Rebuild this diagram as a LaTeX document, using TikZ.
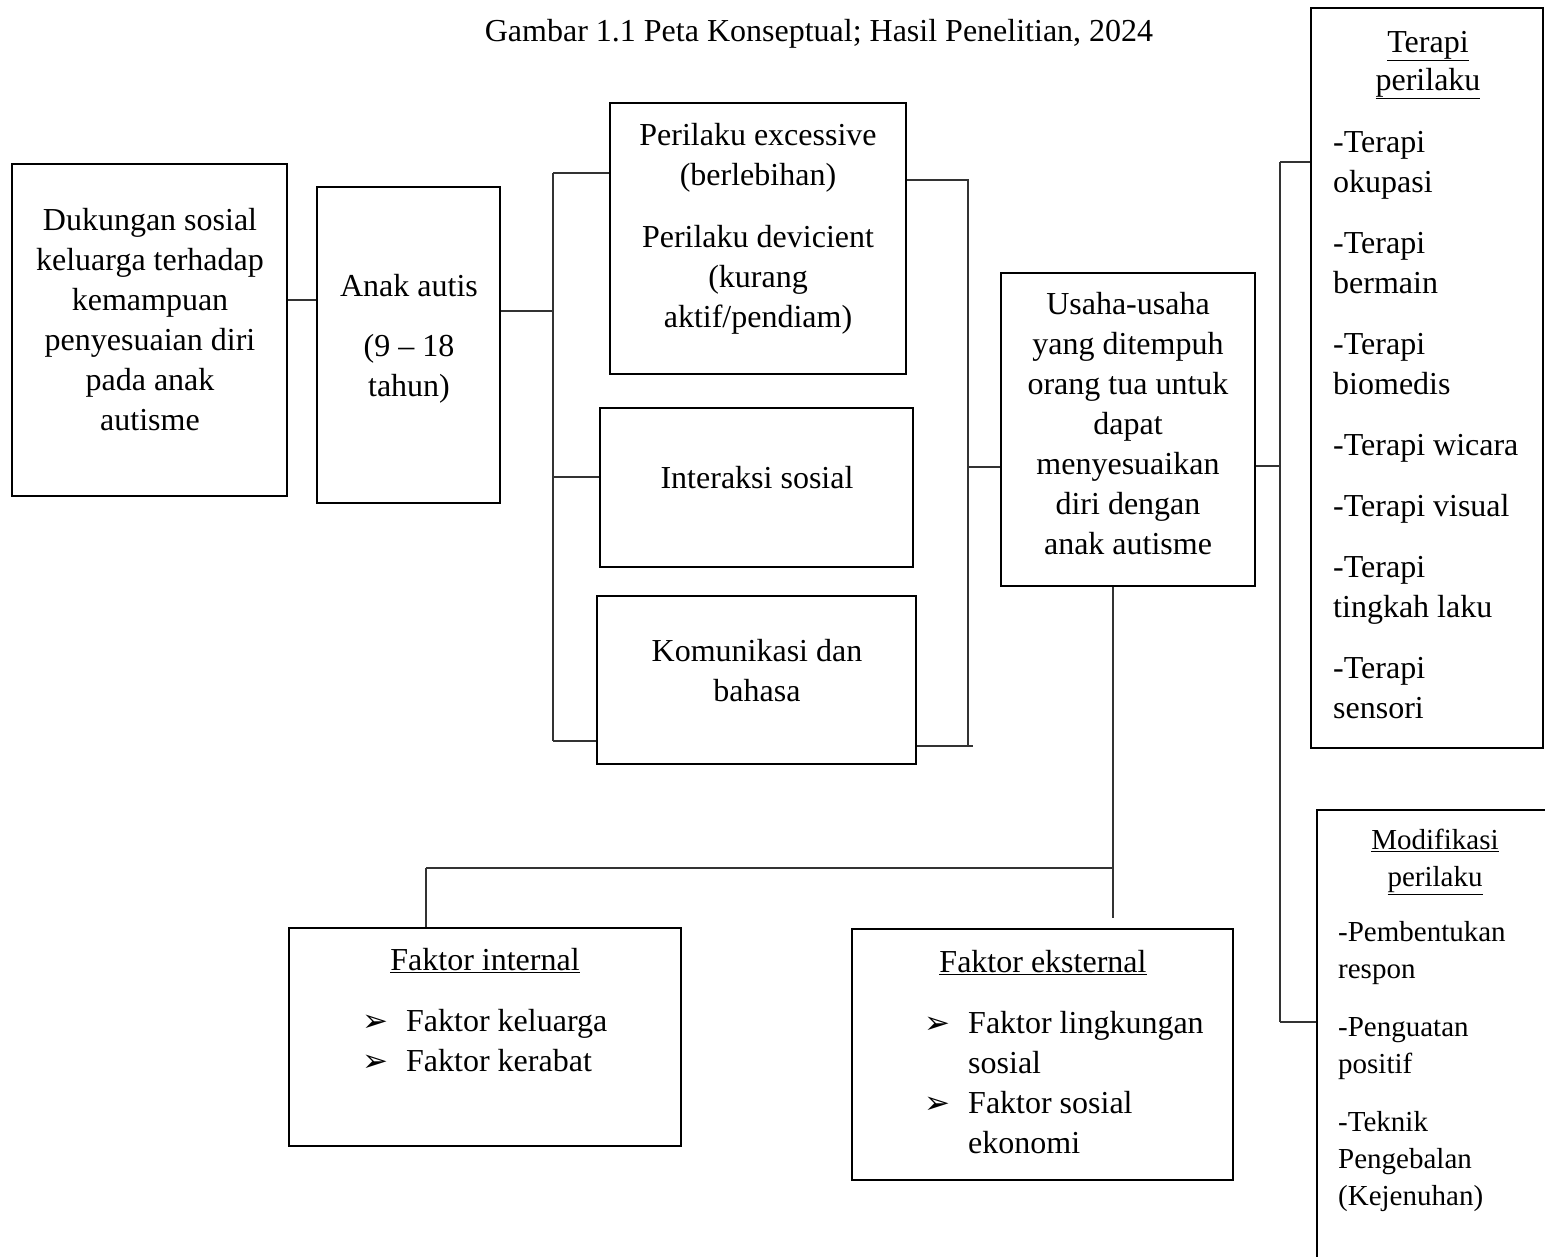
\documentclass[tikz,border=0pt]{standalone}
\usepackage{fontspec}
\setmainfont{Liberation Serif}
\newfontfamily\dejavu{DejaVu Sans}
\usetikzlibrary{fit}
\tikzset{
  box/.style={draw, line width=2.7pt, inner sep=0pt},
  conn/.style={draw=black!80, line width=1.3pt},
  txt/.style={font=\fontsize{32}{40}\selectfont, align=center, inner sep=0pt},
  ltxt/.style={font=\fontsize{32}{40}\selectfont, align=left, inner sep=0pt, anchor=west},
  stxt/.style={font=\fontsize{29}{37}\selectfont, align=left, inner sep=0pt, anchor=west},
}
\newcommand\arrb{\makebox[44pt][l]{\raisebox{0pt}{\dejavu\fontsize{31}{31}\selectfont ➢}}}
\begin{document}
\begin{tikzpicture}[x=1pt,y=-1pt]
\fill[white] (0,0) rectangle (1545,1257);
\useasboundingbox (0,0) rectangle (1545,1257);

% title
\node[txt] (title) at (819,34) {Gambar 1.1 Peta Konseptual; Hasil Penelitian, 2024};

% boxes
\node[box, fit={(12,164) (287,496)}] (b1) {};
\node[box, fit={(317,187) (500,503)}] (b2) {};
\node[box, fit={(610,103) (906,374)}] (b3) {};
\node[box, fit={(600,408) (913,567)}] (b4) {};
\node[box, fit={(597,596) (916,764)}] (b5) {};
\node[box, fit={(1001,273) (1255,586)}] (b6) {};
\node[box, fit={(1311,8) (1543,748)}] (b7) {};
\node[box, fit={(1317,810) (1560,1275)}] (b8) {};
\node[box, fit={(289,928) (681,1146)}] (b9) {};
\node[box, fit={(852,929) (1233,1180)}] (b10) {};

% texts
\node[txt] (t1) at (150,320) {Dukungan sosial\\keluarga terhadap\\kemampuan\\penyesuaian diri\\pada anak\\autisme};
\node[txt] (t2) at (409,339) {Anak autis\\[20pt](9 – 18\\tahun)};
\node[txt] (t3) at (758,229) {Perilaku excessive\\(berlebihan)\\[22pt]Perilaku devicient\\(kurang\\aktif/pendiam)};
\node[txt] (t4) at (757,478) {Interaksi sosial};
\node[txt] (t5) at (757,671) {Komunikasi dan\\bahasa};
\node[txt] (t6) at (1128,424) {Usaha-usaha\\yang ditempuh\\orang tua untuk\\dapat\\menyesuaikan\\diri dengan\\anak autisme};

\node[txt, font=\fontsize{32}{38}\selectfont] (t7a) at (1428,65) {\underline{Terapi}\\\underline{perilaku}};
\node[ltxt] (t7b) at (1333,425) {-Terapi\\okupasi\\[21pt]-Terapi\\bermain\\[21pt]-Terapi\\biomedis\\[21pt]-Terapi wicara\\[21pt]-Terapi visual\\[21pt]-Terapi\\tingkah laku\\[21pt]-Terapi\\sensori};

\node[txt, font=\fontsize{29}{37}\selectfont] (t8a) at (1435,862) {\underline{Modifikasi}\\\underline{perilaku}};
\node[stxt] (t8b) at (1338,1067) {-Pembentukan\\respon\\[21pt]-Penguatan\\positif\\[21pt]-Teknik\\Pengebalan\\(Kejenuhan)};

\node[txt] (t9a) at (485,961) {\underline{Faktor internal}};
\node[ltxt] (t9b) at (362,1041) {\arrb Faktor keluarga\\\arrb Faktor kerabat};
\node[txt] (t10a) at (1043,963) {\underline{Faktor eksternal}};
\node[ltxt] (t10b) at (924,1083) {\arrb Faktor lingkungan\\\hspace*{44pt}sosial\\\arrb Faktor sosial\\\hspace*{44pt}ekonomi};

% connectors
\coordinate (lbT) at (553,173);
\coordinate (lbB) at (553,741);
\coordinate (rbT) at (968,180);
\coordinate (rbB) at (968,746);
\coordinate (fbT) at (1280,162);
\coordinate (fbB) at (1280,1022);
\coordinate (hL) at (426,868);
\coordinate (hR) at (1113,868);
\coordinate (vEnd) at (1113,918);

\draw[conn] (b1.east|-0,300) -- (b2.west|-0,300);
\draw[conn] (b2.east|-0,311) -- (lbT|-0,311);
\draw[conn] (lbT) -- (lbB);
\draw[conn] (lbT) -- (b3.west|-lbT);
\draw[conn] (lbT|-0,477) -- (b4.west|-0,477);
\draw[conn] (lbB) -- (b5.west|-lbB);

\draw[conn] (b3.east|-rbT) -- (rbT) -- (rbB);
\draw[conn] (b5.east|-rbB) -- (973,746);
\draw[conn] (rbT|-0,467) -- (b6.west|-0,467);

\draw[conn] (b6.east|-0,466) -- (fbT|-0,466);
\draw[conn] (fbT) -- (fbB);
\draw[conn] (fbT) -- (b7.west|-fbT);
\draw[conn] (fbB) -- (b8.west|-fbB);

\draw[conn] (b6.south-|hR) -- (vEnd);
\draw[conn] (hL) -- (hR);
\draw[conn] (hL) -- (b9.north-|hL);
\end{tikzpicture}
\end{document}
